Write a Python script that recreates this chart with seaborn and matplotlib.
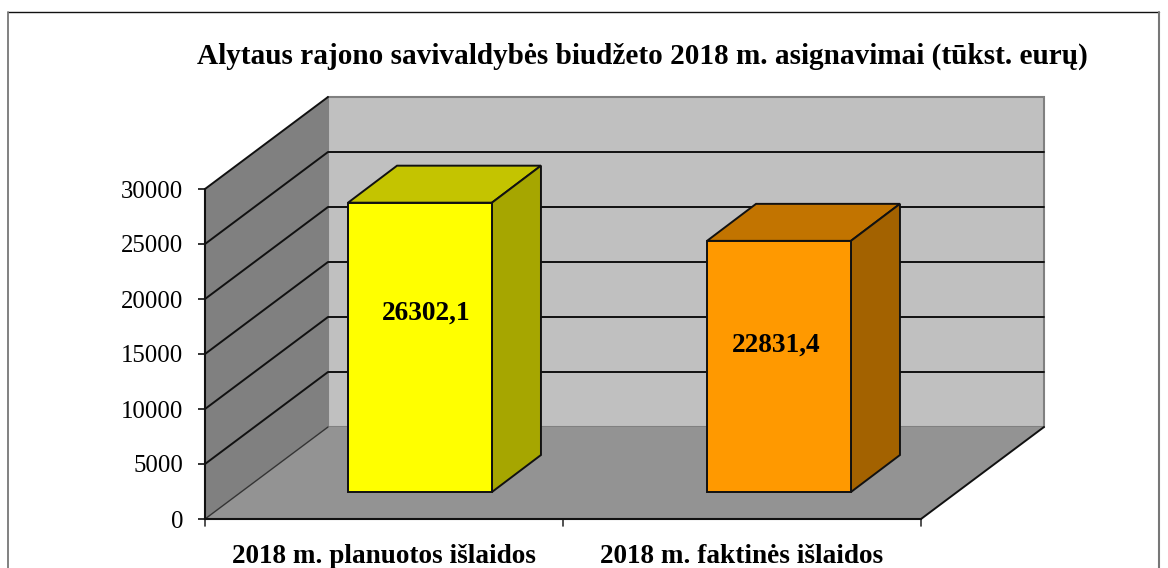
import matplotlib.pyplot as plt
import pandas as pd
import seaborn as sns
from matplotlib.lines import Line2D
from matplotlib.patches import Polygon

categories = ["2018 m. planuotos išlaidos", "2018 m. faktinės išlaidos"]
values = [26302.1, 22831.4]
value_labels = ["26302,1", "22831,4"]
y_ticks = [0, 5000, 10000, 15000, 20000, 25000, 30000]
title = "Alytaus rajono savivaldybės biudžeto 2018 m. asignavimai (tūkst. eurų)"

front_colors = ["#ffff00", "#ff9900"]
top_colors = ["#c4c400", "#c27400"]
side_colors = ["#a6a600", "#a36200"]

sns.set_style("white")
plt.rcParams["font.family"] = ["Liberation Serif", "DejaVu Serif"]

W, H = 1168, 568
fig = plt.figure(figsize=(W / 100, H / 100), dpi=100)
ax = fig.add_axes([205 / W, 49 / H, 716 / W, 330 / H])
ax.patch.set_alpha(0)

df = pd.DataFrame({"category": categories, "value": values})
sns.barplot(
    data=df,
    x="category",
    y="value",
    hue="category",
    palette=front_colors,
    saturation=1,
    legend=False,
    width=0.402,
    edgecolor="#111111",
    linewidth=1.4,
    ax=ax,
)
ax.set_xlim(-0.5, 1.5)
ax.set_ylim(0, 30000)

# pixel sizes of the fake 3D depth, turned into data units
px_x = 2 / 716
px_y = 30000 / 330
wall_dx, wall_dy = 123 * px_x, 92 * px_y
floor_dx = [36 * px_x, 37 * px_x]
floor_dy = 27 * px_y
bar_dx, bar_dy = 49 * px_x, 37 * px_y
x0, x1 = -0.5, 1.5
y1 = 30000


def poly(points, color, z, edge="none", lw=0.0):
    ax.add_patch(Polygon(points, closed=True, facecolor=color, edgecolor=edge,
                         linewidth=lw, zorder=z, clip_on=False))


# back wall, side wall and floor
poly([(x0 + wall_dx, wall_dy), (x1 + wall_dx, wall_dy), (x1 + wall_dx, y1 + wall_dy),
      (x0 + wall_dx, y1 + wall_dy)], "#c0c0c0", 0.5, "#808080", 1.5)
poly([(x0, 0), (x0 + wall_dx, wall_dy), (x0 + wall_dx, y1 + wall_dy), (x0, y1)],
     "#808080", 0.6)
poly([(x0, 0), (x1, 0), (x1 + wall_dx, wall_dy), (x0 + wall_dx, wall_dy)],
     "#939393", 0.6)

# gridlines on both walls
for t in y_ticks[1:]:
    xs = [x0, x0 + wall_dx, x1 + wall_dx]
    ys = [t, t + wall_dy, t + wall_dy]
    if t == y1:
        xs, ys = xs[:2], ys[:2]
    ax.plot(xs, ys, color="#111111", lw=1.4, zorder=0.8, clip_on=False)
ax.plot([x0, x0 + wall_dx], [0, wall_dy], color="#333333", lw=1.0, zorder=0.8, clip_on=False)
ax.plot([x1, x1 + wall_dx], [0, wall_dy], color="#111111", lw=1.4, zorder=0.8, clip_on=False)

# move bars onto the floor and add the top and side faces
for i, bar in enumerate(ax.patches[:2]):
    bar.set_x(bar.get_x() + floor_dx[i])
    bar.set_y(bar.get_y() + floor_dy)
    bar.set_zorder(3)
    left = bar.get_x()
    right = left + bar.get_width()
    base = bar.get_y()
    top = base + bar.get_height()
    poly([(left, top), (right, top), (right + bar_dx, top + bar_dy), (left + bar_dx, top + bar_dy)],
         top_colors[i], 2, "#111111", 1.4)
    poly([(right, base), (right + bar_dx, base + bar_dy), (right + bar_dx, top + bar_dy), (right, top)],
         side_colors[i], 2, "#111111", 1.4)

label_shift = [(6, 34), (-3, 21)]
for bar, text, shift in zip(ax.patches[:2], value_labels, label_shift):
    ax.annotate(
        text,
        xy=(bar.get_x() + bar.get_width() / 2, bar.get_y() + bar.get_height() / 2),
        xytext=(shift[0] * 0.72, shift[1] * 0.72),
        textcoords="offset points",
        ha="center",
        va="center",
        fontsize=19.7,
        fontweight="bold",
        color="black",
        zorder=5,
    )

sns.despine(ax=ax, top=True, right=True, left=False, bottom=False)
for side in ["left", "bottom"]:
    ax.spines[side].set_color("#111111")
    ax.spines[side].set_linewidth(1.5)
    ax.spines[side].set_zorder(4)

ax.set_yticks(y_ticks)
ax.set_yticklabels([str(t) for t in y_ticks], fontsize=17.8, color="black")
ax.tick_params(axis="y", left=True, length=5, width=1.2, color="#111111", pad=10.5)
ax.set_xticks([0, 1])
ax.set_xticklabels(categories, fontsize=19.6, fontweight="bold", color="black")
ax.tick_params(axis="x", bottom=False, pad=14.5)
ax.set_xlabel("")
ax.set_ylabel("")
for x in [x0, 0.5, x1]:
    ax.plot([x, x], [0, -7 * px_y], color="#333333", lw=1.2, clip_on=False, zorder=4)

fig.text(642 / W, 1 - 56 / H, title, ha="center", va="center", fontsize=21.1,
         fontweight="bold", color="black")

# outer frame, bottom edge is cut off by the picture
fig.add_artist(Line2D([8 / W, 1159 / W], [1 - 12 / H, 1 - 12 / H], color="#111111", lw=1.0))
fig.add_artist(Line2D([8 / W, 8 / W], [0, 1 - 12 / H], color="#777777", lw=1.3))
fig.add_artist(Line2D([1159 / W, 1159 / W], [0, 1 - 12 / H], color="#777777", lw=1.5))

fig.savefig("out.png", dpi=100)
